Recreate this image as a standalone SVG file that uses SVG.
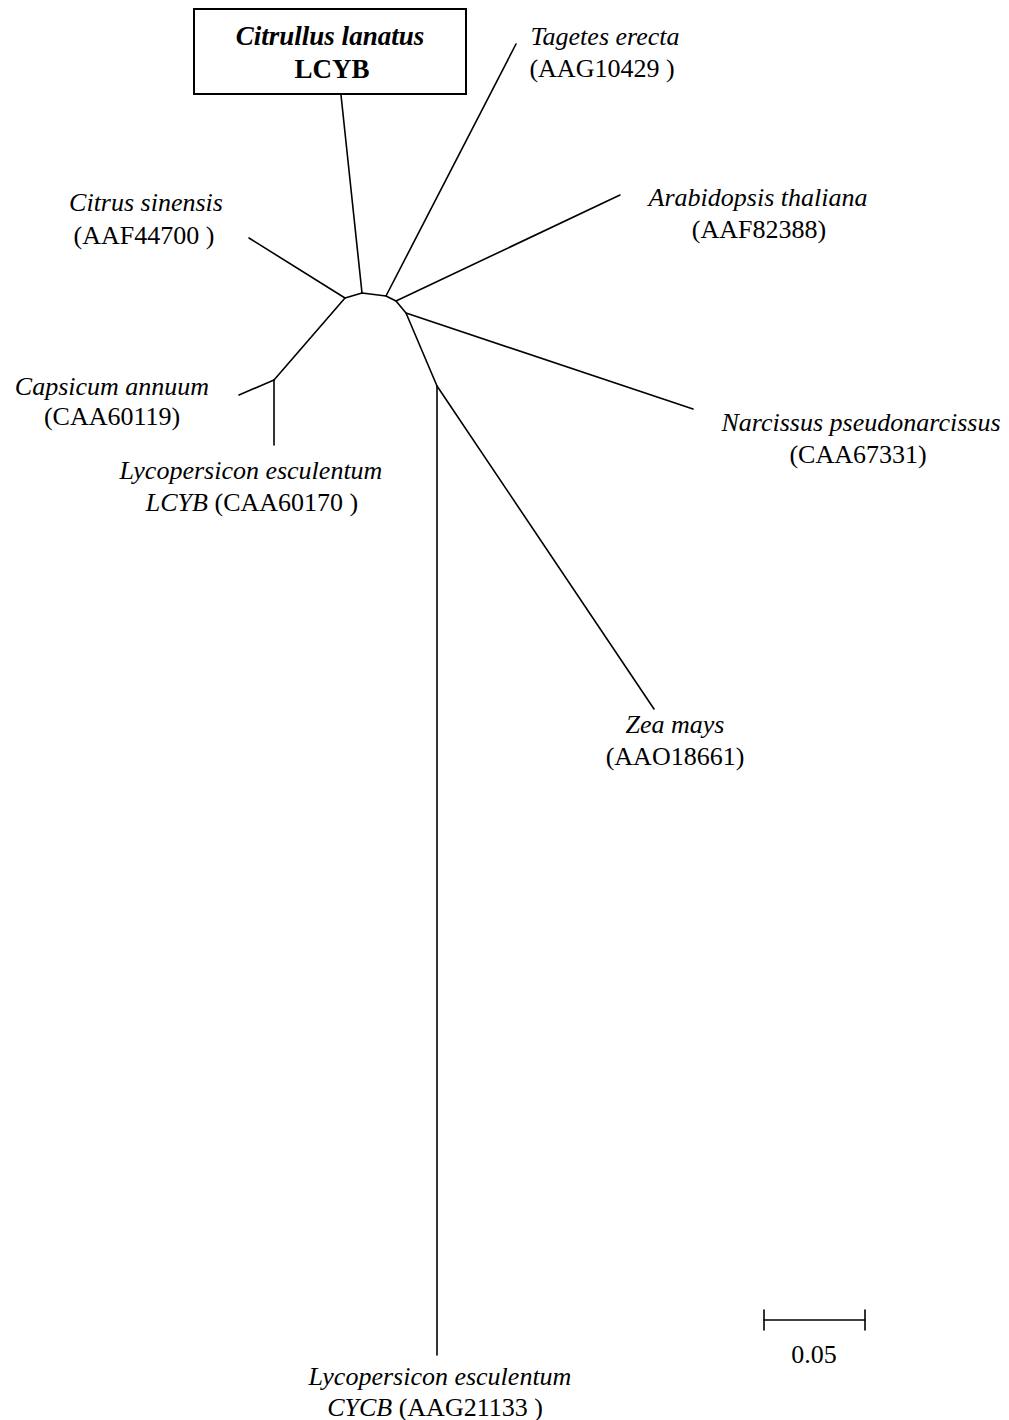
<svg xmlns="http://www.w3.org/2000/svg" width="1009" height="1420" viewBox="0 0 1009 1420">
<style>
text{font-family:"Liberation Serif","Times New Roman",serif;font-size:26px;fill:#000;text-anchor:middle}
.i{font-style:italic}
.b{font-weight:bold;font-size:27px}
.e{fill:none;stroke:#000;stroke-width:1.6;stroke-linejoin:round;stroke-linecap:round}
</style>
<rect width="1009" height="1420" fill="#fff"/>
<g id="connectors" class="e">
<polyline points="345,298 362,293 386,296 396,301 406,313 437,386"/>
<line x1="341" y1="95" x2="362" y2="293"/>
<line x1="345" y1="298" x2="249" y2="238"/>
<line x1="345" y1="298" x2="274" y2="380"/>
<line x1="274" y1="380" x2="239" y2="395"/>
<line x1="274" y1="380" x2="274" y2="445"/>
<line x1="386" y1="296" x2="516" y2="44"/>
<line x1="396" y1="301" x2="620" y2="195"/>
<line x1="406" y1="313" x2="693" y2="409"/>
<line x1="437" y1="386" x2="437" y2="1355"/>
<line x1="437" y1="386" x2="654" y2="709"/>
</g>
<g id="citrullus">
<rect x="194" y="9" width="272" height="85" fill="#fff" stroke="#000" stroke-width="2"/>
<text x="330" y="45" class="i b">Citrullus lanatus</text>
<text x="332" y="78" class="b">LCYB</text>
</g>
<g id="tagetes">
<text x="605" y="45" class="i">Tagetes erecta</text>
<text x="602" y="77">(AAG10429 )</text>
</g>
<g id="citrus">
<text x="146" y="211" class="i">Citrus sinensis</text>
<text x="144" y="244">(AAF44700 )</text>
</g>
<g id="arabidopsis">
<text x="758" y="206" class="i">Arabidopsis thaliana</text>
<text x="759" y="238">(AAF82388)</text>
</g>
<g id="capsicum">
<text x="112" y="395" class="i">Capsicum annuum</text>
<text x="112" y="425">(CAA60119)</text>
</g>
<g id="narcissus">
<text x="861" y="431" class="i">Narcissus pseudonarcissus</text>
<text x="858" y="463">(CAA67331)</text>
</g>
<g id="lycopersicon-lcyb">
<text x="251" y="479" class="i">Lycopersicon esculentum</text>
<text x="252" y="511"><tspan class="i">LCYB</tspan> (CAA60170 )</text>
</g>
<g id="zea">
<text x="675" y="733" class="i">Zea mays</text>
<text x="675" y="765">(AAO18661)</text>
</g>
<g id="lycopersicon-cycb">
<text x="440" y="1385" class="i">Lycopersicon esculentum</text>
<text x="435" y="1416"><tspan class="i">CYCB</tspan> (AAG21133 )</text>
</g>
<g id="scale">
<g class="e"><line x1="764" y1="1320" x2="865" y2="1320"/><line x1="764" y1="1310" x2="764" y2="1330"/><line x1="865" y1="1310" x2="865" y2="1330"/></g>
<text x="814" y="1363">0.05</text>
</g>
</svg>
